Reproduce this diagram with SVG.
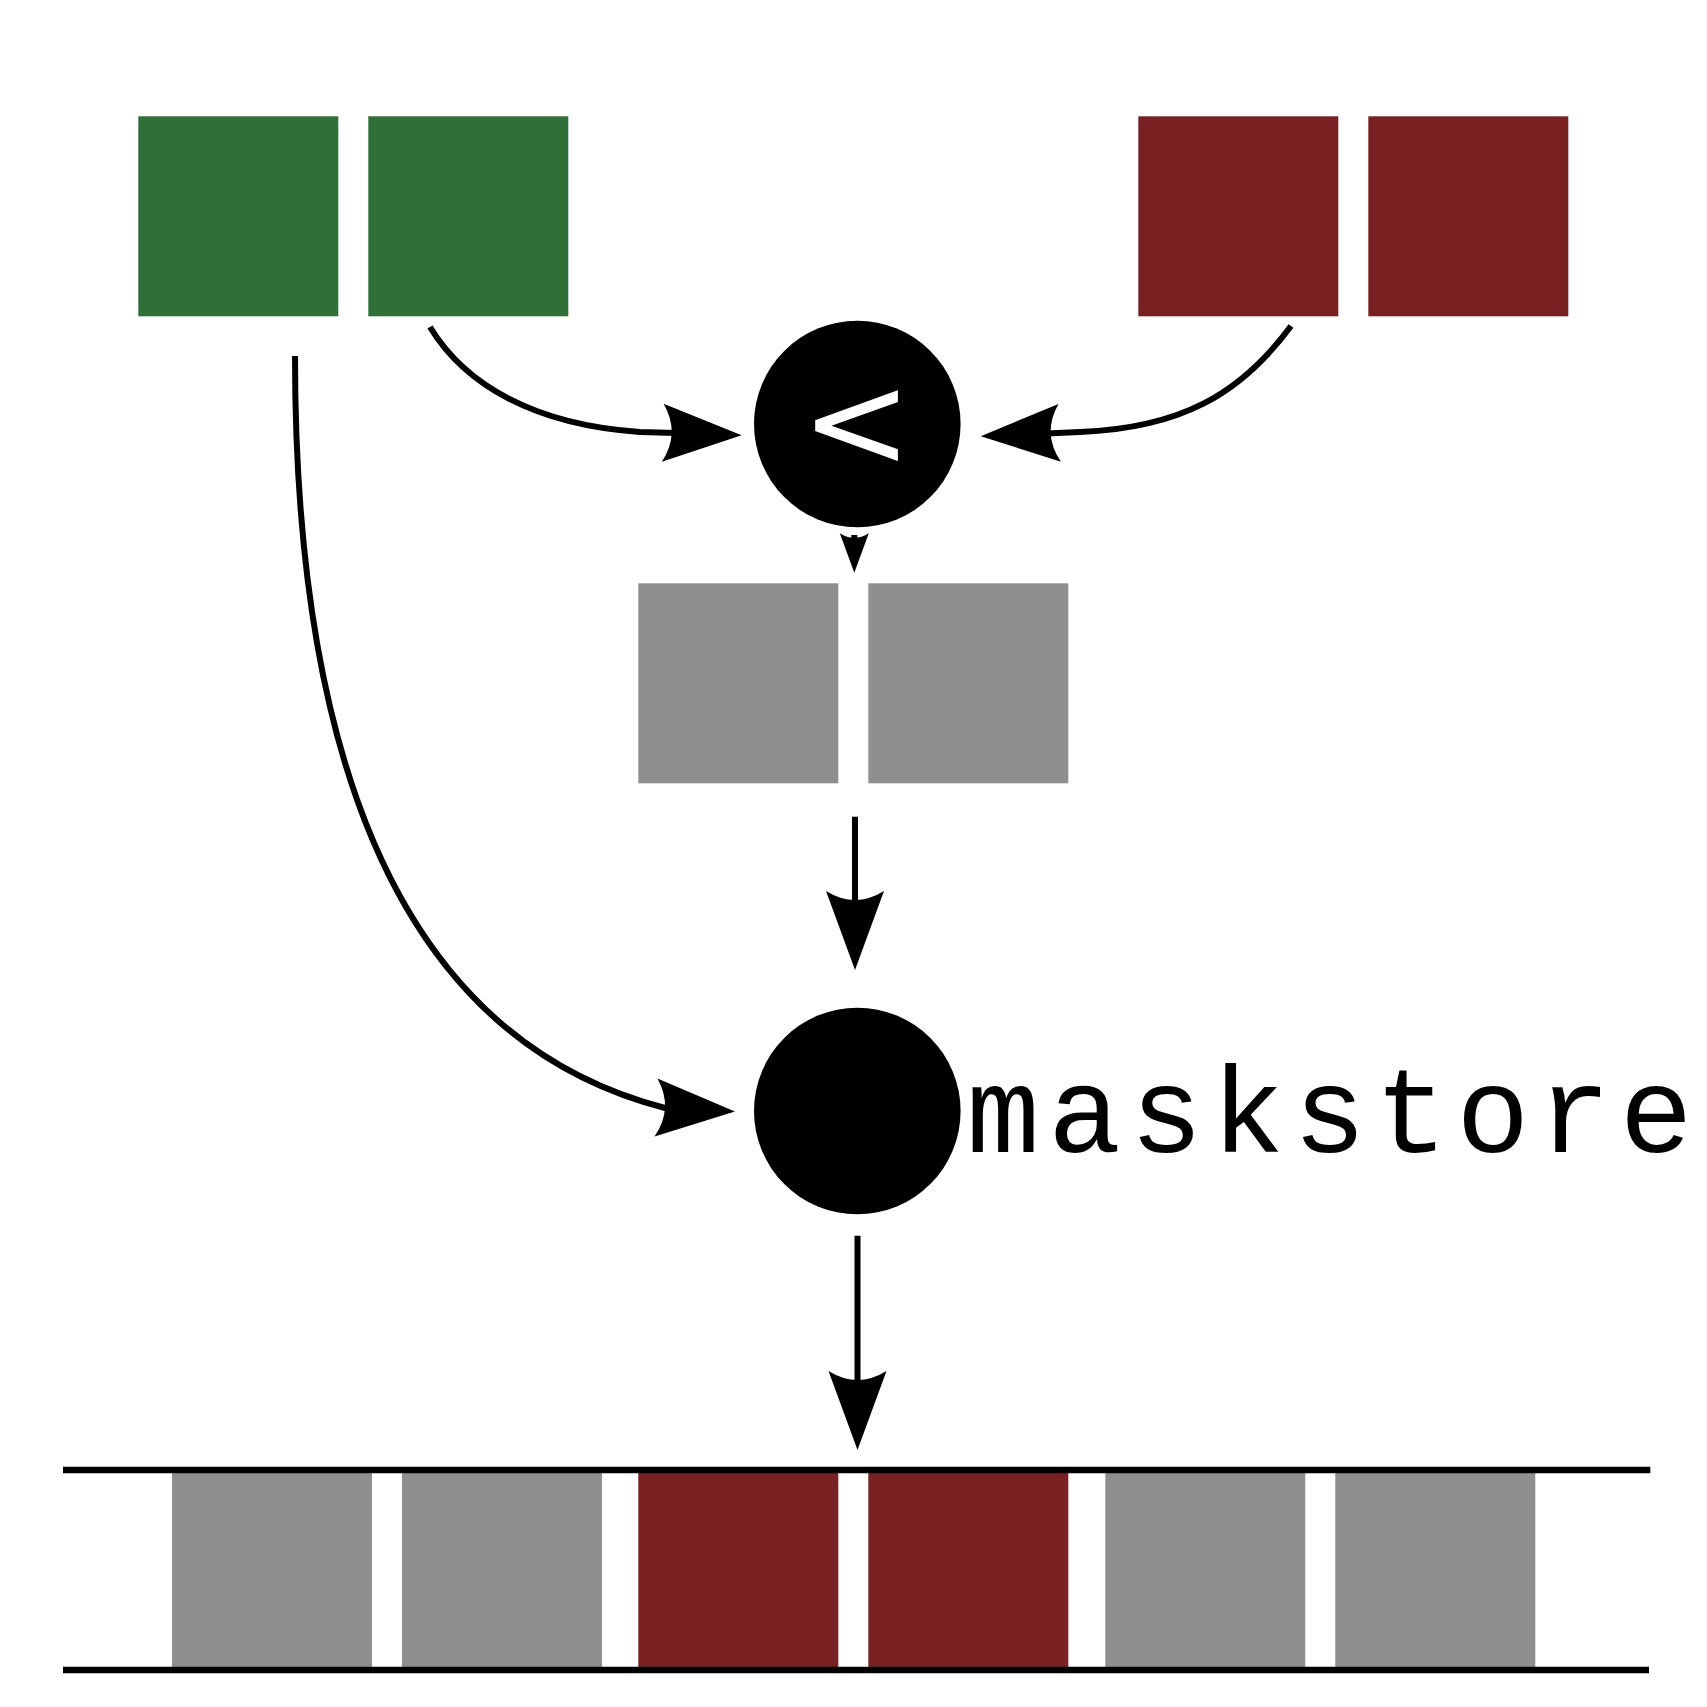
<svg xmlns="http://www.w3.org/2000/svg" width="1707" height="1707" viewBox="0 0 1707 1707">
  <style>
    .green { fill: #2E7038; }
    .red { fill: #782022; }
    .gray { fill: #8F8F8F; }
    .op { fill: #000000; }
    .conn { fill: none; stroke: #000000; stroke-width: 6; }
    .bar { stroke: #000000; stroke-width: 6.6; }
    .sym { font-family: "DejaVu Sans", sans-serif; font-size: 132px; fill: #FFFFFF; text-anchor: middle; }
    .lbl { font-family: "Liberation Mono", "Courier New", monospace; font-size: 122px; letter-spacing: 8.4px; fill: #000000; }
  </style>
  <defs>
    <marker id="head" markerUnits="userSpaceOnUse" orient="auto" refX="4" refY="0" viewBox="-10 -30 82 60" markerWidth="82" markerHeight="60" overflow="visible">
      <path d="M70,0 L-9,-29 Q9,0 -9,29 Z" fill="#000000"/>
    </marker>
    <marker id="headSmall" markerUnits="userSpaceOnUse" orient="auto" refX="2" refY="0" viewBox="-5 -15 41 30" markerWidth="41" markerHeight="30" overflow="visible">
      <path d="M35,0 L-4.5,-14.5 Q4.5,0 -4.5,14.5 Z" fill="#000000"/>
    </marker>
  </defs>
  <rect width="1707" height="1707" fill="#FFFFFF"/>

  <g id="vector-a">
    <rect class="green" x="138.3" y="116.3" width="200" height="200"/>
    <rect class="green" x="368.3" y="116.3" width="200" height="200"/>
  </g>
  <g id="vector-b">
    <rect class="red" x="1138.3" y="116.3" width="200" height="200"/>
    <rect class="red" x="1368.3" y="116.3" width="200" height="200"/>
  </g>
  <g id="compare">
    <circle class="op" cx="857.3" cy="424" r="103.3"/>
    <text class="sym" x="856.5" y="466.5">&lt;</text>
  </g>
  <g id="mask">
    <rect class="gray" x="638.3" y="583.3" width="200" height="200"/>
    <rect class="gray" x="868.3" y="583.3" width="200" height="200"/>
  </g>
  <g id="maskstore">
    <circle class="op" cx="857.3" cy="1111" r="103.3"/>
    <text class="lbl" x="966.5" y="1151.5">maskstore</text>
  </g>
  <g id="memory">
    <rect class="gray" x="172" y="1470" width="200" height="200"/>
    <rect class="gray" x="402" y="1470" width="200" height="200"/>
    <rect class="red" x="638.3" y="1470" width="200" height="200"/>
    <rect class="red" x="868.3" y="1470" width="200" height="200"/>
    <rect class="gray" x="1105.3" y="1470" width="200" height="200"/>
    <rect class="gray" x="1335.3" y="1470" width="200" height="200"/>
    <line class="bar" x1="63" y1="1470" x2="1650.3" y2="1470"/>
    <line class="bar" x1="63" y1="1670" x2="1649" y2="1670"/>
  </g>

  <g id="connectors">
    <path class="conn" d="M430,327 C465,385 535,425 640,432 L675.7,433.1" marker-end="url(#head)"/>
    <path class="conn" d="M1291,326 C1240,395 1180,428 1080,432 L1046.7,433.4" marker-end="url(#head)"/>
    <path class="conn" d="M854.3,535 L854.3,539.7" marker-end="url(#headSmall)"/>
    <path class="conn" d="M855,816.7 L855,904" marker-end="url(#head)"/>
    <path class="conn" d="M295,356 C295,830 440,1050 665,1108 L669,1108.2" marker-end="url(#head)"/>
    <path class="conn" d="M857.5,1235.7 L857.5,1384" marker-end="url(#head)"/>
  </g>
</svg>
